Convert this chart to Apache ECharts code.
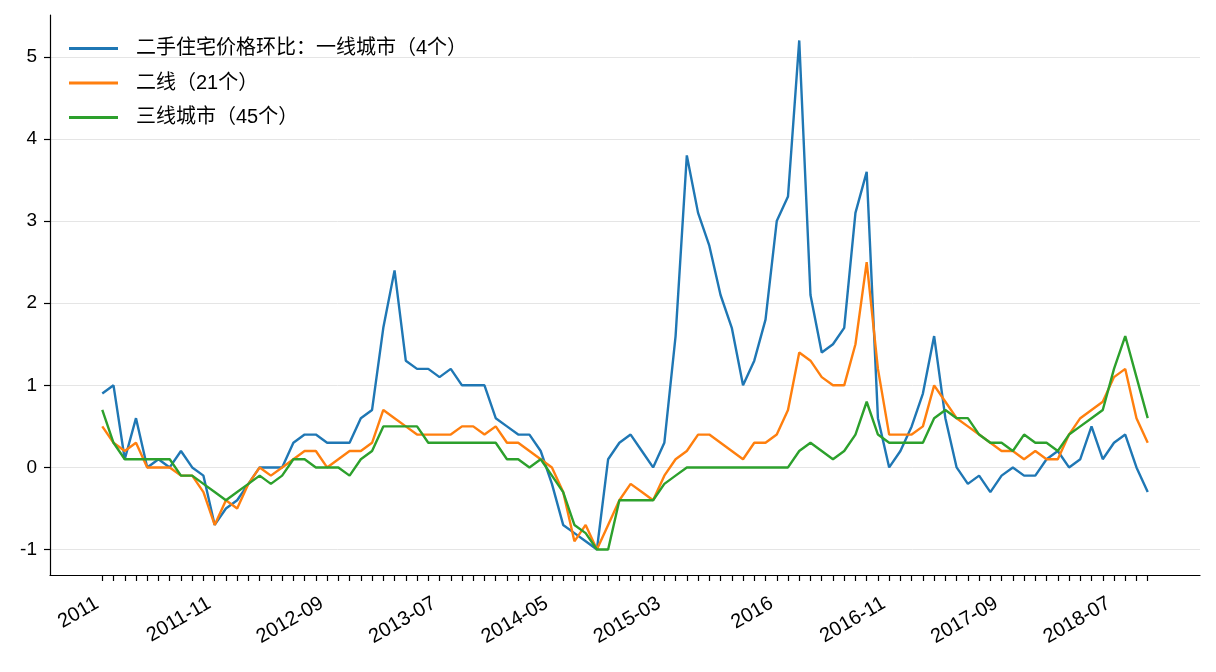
<!DOCTYPE html>
<html>
<head>
<meta charset="utf-8">
<script src="https://cdn.jsdelivr.net/npm/echarts@6/dist/echarts.min.js"></script>
<style>
  html, body { margin: 0; padding: 0; background: #fff; }
  #chart { width: 1216px; height: 672px; }
</style>
</head>
<body>
<div id="chart"></div>
<script>
// monthly categories, 2011-01 .. 2018-10
const months = [
  '2011-01','2011-02','2011-03','2011-04','2011-05','2011-06','2011-07','2011-08','2011-09','2011-10','2011-11','2011-12',
  '2012-01','2012-02','2012-03','2012-04','2012-05','2012-06','2012-07','2012-08','2012-09','2012-10','2012-11','2012-12',
  '2013-01','2013-02','2013-03','2013-04','2013-05','2013-06','2013-07','2013-08','2013-09','2013-10','2013-11','2013-12',
  '2014-01','2014-02','2014-03','2014-04','2014-05','2014-06','2014-07','2014-08','2014-09','2014-10','2014-11','2014-12',
  '2015-01','2015-02','2015-03','2015-04','2015-05','2015-06','2015-07','2015-08','2015-09','2015-10','2015-11','2015-12',
  '2016-01','2016-02','2016-03','2016-04','2016-05','2016-06','2016-07','2016-08','2016-09','2016-10','2016-11','2016-12',
  '2017-01','2017-02','2017-03','2017-04','2017-05','2017-06','2017-07','2017-08','2017-09','2017-10','2017-11','2017-12',
  '2018-01','2018-02','2018-03','2018-04','2018-05','2018-06','2018-07','2018-08','2018-09','2018-10'
];

const tier1 = [
  0.9, 1.0, 0.1, 0.6, 0.0, 0.1, 0.0, 0.2, 0.0, -0.1, -0.7, -0.5,
  -0.4, -0.2, 0.0, 0.0, 0.0, 0.3, 0.4, 0.4, 0.3, 0.3, 0.3, 0.6,
  0.7, 1.7, 2.4, 1.3, 1.2, 1.2, 1.1, 1.2, 1.0, 1.0, 1.0, 0.6,
  0.5, 0.4, 0.4, 0.2, -0.2, -0.7, -0.8, -0.9, -1.0, 0.1, 0.3, 0.4,
  0.2, 0.0, 0.3, 1.6, 3.8, 3.1, 2.7, 2.1, 1.7, 1.0, 1.3, 1.8,
  3.0, 3.3, 5.2, 2.1, 1.4, 1.5, 1.7, 3.1, 3.6, 0.6, 0.0, 0.2,
  0.5, 0.9, 1.6, 0.6, 0.0, -0.2, -0.1, -0.3, -0.1, 0.0, -0.1, -0.1,
  0.1, 0.2, 0.0, 0.1, 0.5, 0.1, 0.3, 0.4, 0.0, -0.3
];

const tier2 = [
  0.5, 0.3, 0.2, 0.3, 0.0, 0.0, 0.0, -0.1, -0.1, -0.3, -0.7, -0.4,
  -0.5, -0.2, 0.0, -0.1, 0.0, 0.1, 0.2, 0.2, 0.0, 0.1, 0.2, 0.2,
  0.3, 0.7, 0.6, 0.5, 0.4, 0.4, 0.4, 0.4, 0.5, 0.5, 0.4, 0.5,
  0.3, 0.3, 0.2, 0.1, 0.0, -0.3, -0.9, -0.7, -1.0, -0.7, -0.4, -0.2,
  -0.3, -0.4, -0.1, 0.1, 0.2, 0.4, 0.4, 0.3, 0.2, 0.1, 0.3, 0.3,
  0.4, 0.7, 1.4, 1.3, 1.1, 1.0, 1.0, 1.5, 2.5, 1.2, 0.4, 0.4,
  0.4, 0.5, 1.0, 0.8, 0.6, 0.5, 0.4, 0.3, 0.2, 0.2, 0.1, 0.2,
  0.1, 0.1, 0.4, 0.6, 0.7, 0.8, 1.1, 1.2, 0.6, 0.3
];

const tier3 = [
  0.7, 0.3, 0.1, 0.1, 0.1, 0.1, 0.1, -0.1, -0.1, -0.2, -0.3, -0.4,
  -0.3, -0.2, -0.1, -0.2, -0.1, 0.1, 0.1, 0.0, 0.0, 0.0, -0.1, 0.1,
  0.2, 0.5, 0.5, 0.5, 0.5, 0.3, 0.3, 0.3, 0.3, 0.3, 0.3, 0.3,
  0.1, 0.1, 0.0, 0.1, -0.1, -0.3, -0.7, -0.8, -1.0, -1.0, -0.4, -0.4,
  -0.4, -0.4, -0.2, -0.1, 0.0, 0.0, 0.0, 0.0, 0.0, 0.0, 0.0, 0.0,
  0.0, 0.0, 0.2, 0.3, 0.2, 0.1, 0.2, 0.4, 0.8, 0.4, 0.3, 0.3,
  0.3, 0.3, 0.6, 0.7, 0.6, 0.6, 0.4, 0.3, 0.3, 0.2, 0.4, 0.3,
  0.3, 0.2, 0.4, 0.5, 0.6, 0.7, 1.2, 1.6, 1.1, 0.6
];

const seriesNames = ['二手住宅价格环比：一线城市（4个）', '二线（21个）', '三线城市（45个）'];
const colors = ['#1f77b4', '#ff7f0e', '#2ca02c'];

// x tick labels every 10 months
const xLabelPos = [0, 10, 20, 30, 40, 50, 60, 70, 80, 90];
const xLabels = ['2011', '2011-11', '2012-09', '2013-07', '2014-05', '2015-03', '2016', '2016-11', '2017-09', '2018-07'];
const yTicks = [-1, 0, 1, 2, 3, 4, 5];

const fontFam = '"Liberation Sans", Arial, "Noto Sans CJK SC", sans-serif';

const mychart = echarts.init(document.getElementById('chart'));

const makeSeries = (name, values, color) => ({
  name: name,
  type: 'line',
  data: values.map((v, i) => [i, v]),
  showSymbol: false,
  symbol: 'none',
  color: color,
  lineStyle: { width: 2.4, color: color },
  silent: true
});

const option = {
  animation: false,
  backgroundColor: '#fff',
  grid: { left: 50, right: 16, top: 15, bottom: 97, containLabel: false },
  legend: {
    orient: 'vertical',
    left: 69,
    top: 38,
    padding: 0,
    icon: 'rect',
    itemWidth: 49,
    itemHeight: 3,
    itemGap: 13.5,
    data: seriesNames,
    textStyle: {
      fontFamily: fontFam,
      fontSize: 20,
      color: '#000',
      lineHeight: 21,
      padding: [0, 0, 0, 13]
    }
  },
  xAxis: {
    type: 'value',
    min: -4.65,
    max: months.length - 1 + 4.65,
    axisLine: { show: true, onZero: false, lineStyle: { color: '#000', width: 1.2 } },
    axisTick: {
      show: true,
      length: 6,
      lineStyle: { color: '#000', width: 1.2 },
      customValues: months.map((m, i) => i)
    },
    axisLabel: {
      customValues: xLabelPos,
      rotate: 30,
      margin: 24,
      padding: [0, 6, 0, 0],
      fontFamily: fontFam,
      fontSize: 20,
      color: '#000',
      formatter: v => xLabels[xLabelPos.indexOf(v)]
    },
    splitLine: { show: false }
  },
  yAxis: {
    type: 'value',
    min: -1.31,
    max: 5.51,
    axisLine: { show: true, onZero: false, lineStyle: { color: '#000', width: 1.2 } },
    axisTick: {
      show: true,
      length: 6,
      lineStyle: { color: '#000', width: 1.2 },
      customValues: yTicks
    },
    axisLabel: {
      customValues: yTicks,
      margin: 13,
      fontFamily: fontFam,
      fontSize: 19,
      color: '#000'
    },
    splitLine: { show: true, lineStyle: { color: '#e5e5e5', width: 1 } }
  },
  series: [
    makeSeries(seriesNames[0], tier1, colors[0]),
    makeSeries(seriesNames[1], tier2, colors[1]),
    makeSeries(seriesNames[2], tier3, colors[2])
  ]
};

mychart.setOption(option);
</script>
</body>
</html>
